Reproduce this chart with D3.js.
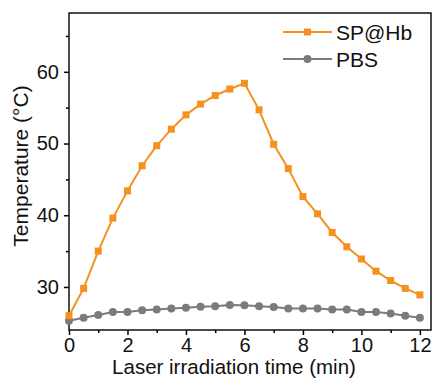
<!DOCTYPE html>
<html>
<head>
<meta charset="utf-8">
<script src="https://cdn.jsdelivr.net/npm/d3@7"></script>
<style>
  body { margin: 0; background: #fff; }
  svg { display: block; font-family: "Liberation Sans", Arial, sans-serif; }
</style>
</head>
<body>
<div id="chart"></div>
<script>
// time points (min)
const times = [0, 0.5, 1, 1.5, 2, 2.5, 3, 3.5, 4, 4.5, 5, 5.5, 6, 6.5, 7, 7.5, 8, 8.5, 9, 9.5, 10, 10.5, 11, 11.5, 12];
const spHb = [26.0, 29.8, 35.0, 39.6, 43.4, 46.9, 49.7, 52.0, 54.0, 55.5, 56.7, 57.6, 58.4, 54.7, 49.9, 46.5, 42.6, 40.2, 37.6, 35.6, 33.9, 32.2, 30.9, 29.8, 28.9];
const pbs = [25.3, 25.7, 26.1, 26.5, 26.5, 26.75, 26.85, 27.0, 27.1, 27.25, 27.3, 27.5, 27.45, 27.3, 27.2, 27.0, 27.0, 27.0, 26.85, 26.85, 26.5, 26.5, 26.3, 26.0, 25.7];
const xTicks = [0, 2, 4, 6, 8, 10, 12];
const yTicks = [30, 40, 50, 60];

const width = 432, height = 378;
const margin = { left: 69, right: 431, top: 13, bottom: 330 };

const svg = d3.select("#chart").append("svg")
  .attr("width", width).attr("height", height);

const x = d3.scaleLinear().domain([0, 12.38]).range([margin.left, margin.right]);
const y = d3.scaleLinear().domain([24, 68.2]).range([margin.bottom, margin.top]);

// minor ticks
const xMinor = d3.range(1, 13, 2);
const yMinor = [25, 35, 45, 55, 65];

svg.append("g")
  .attr("transform", "translate(0," + margin.bottom + ")")
  .call(d3.axisBottom(x).tickValues(xMinor).tickSize(3).tickFormat(""))
  .call(g => g.select(".domain").remove())
  .selectAll("line").attr("stroke-width", 1.5);

svg.append("g")
  .attr("transform", "translate(" + margin.left + ",0)")
  .call(d3.axisLeft(y).tickValues(yMinor).tickSize(3).tickFormat(""))
  .call(g => g.select(".domain").remove())
  .selectAll("line").attr("stroke-width", 1.5);

const xAxis = svg.append("g")
  .attr("transform", "translate(0," + margin.bottom + ")")
  .call(d3.axisBottom(x).tickValues(xTicks).tickSize(5).tickPadding(3));
xAxis.select(".domain").remove();
xAxis.selectAll("line").attr("stroke-width", 1.5);
xAxis.selectAll("text").attr("font-size", 20).attr("fill", "#111").attr("font-family", "Liberation Sans, Arial");

const yAxis = svg.append("g")
  .attr("transform", "translate(" + margin.left + ",0)")
  .call(d3.axisLeft(y).tickValues(yTicks).tickSize(5).tickPadding(5));
yAxis.select(".domain").remove();
yAxis.selectAll("line").attr("stroke-width", 1.5);
yAxis.selectAll("text").attr("font-size", 20).attr("fill", "#111").attr("font-family", "Liberation Sans, Arial");

// frame
svg.append("rect")
  .attr("x", margin.left).attr("y", margin.top)
  .attr("width", margin.right - margin.left).attr("height", margin.bottom - margin.top)
  .attr("fill", "none").attr("stroke", "#111").attr("stroke-width", 1.5);

const orange = "#F5911E", grey = "#7B7B7B";

const line = d3.line()
  .x((d, i) => x(times[i]))
  .y(d => y(d));

svg.append("path").datum(pbs)
  .attr("d", line).attr("fill", "none")
  .attr("stroke", grey).attr("stroke-width", 2);
svg.append("g").selectAll("circle").data(pbs).join("circle")
  .attr("cx", (d, i) => x(times[i])).attr("cy", d => y(d))
  .attr("r", 4).attr("fill", grey);

svg.append("path").datum(spHb)
  .attr("d", line).attr("fill", "none")
  .attr("stroke", orange).attr("stroke-width", 2);
svg.append("g").selectAll("rect").data(spHb).join("rect")
  .attr("x", (d, i) => x(times[i]) - 3.5).attr("y", d => y(d) - 3.5)
  .attr("width", 7).attr("height", 7).attr("fill", orange);

// legend
const legend = [
  { name: "SP@Hb", color: orange, shape: "square", y: 32 },
  { name: "PBS", color: grey, shape: "circle", y: 59 }
];
legend.forEach(l => {
  svg.append("line")
    .attr("x1", 283).attr("x2", 332).attr("y1", l.y).attr("y2", l.y)
    .attr("stroke", l.color).attr("stroke-width", 2);
  if (l.shape === "square") {
    svg.append("rect").attr("x", 304).attr("y", l.y - 3.5)
      .attr("width", 7).attr("height", 7).attr("fill", l.color);
  } else {
    svg.append("circle").attr("cx", 307.5).attr("cy", l.y).attr("r", 4).attr("fill", l.color);
  }
  svg.append("text")
    .attr("x", 336).attr("y", l.y + 8)
    .attr("font-size", 21).attr("fill", "#111")
    .text(l.name);
});

// axis titles
svg.append("text")
  .attr("x", 234).attr("y", 374)
  .attr("text-anchor", "middle")
  .attr("font-size", 20.5).attr("fill", "#111")
  .text("Laser irradiation time (min)");

svg.append("text")
  .attr("transform", "translate(28,166) rotate(-90)")
  .attr("text-anchor", "middle")
  .attr("font-size", 21).attr("fill", "#111")
  .text("Temperature (°C)");
</script>
</body>
</html>
